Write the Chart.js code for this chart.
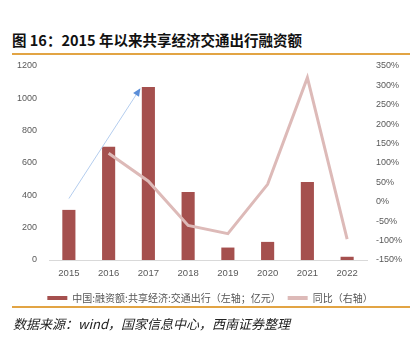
<!DOCTYPE html>
<html><head><meta charset="utf-8">
<script src="https://cdn.jsdelivr.net/npm/chart.js@4.4.1/dist/chart.umd.min.js"></script>
<style>
html,body{margin:0;padding:0;background:#fff;width:420px;height:343px;overflow:hidden;}
#wrap{position:relative;width:420px;height:343px;}
#title{position:absolute;left:12px;top:31px;font:bold 14.5px "Noto Sans CJK SC","Noto Sans",sans-serif;color:#111;white-space:nowrap;line-height:18px;}
.rule{position:absolute;left:12px;width:398px;height:1.5px;background:#E2A444;}
#src{position:absolute;left:13px;top:315px;font:italic 13px "Noto Sans CJK SC",sans-serif;color:#222;white-space:nowrap;line-height:18px;}
canvas{position:absolute;left:0;top:0;}
</style></head>
<body><div id="wrap">
<div id="title">图 16：2015 年以来共享经济交通出行融资额</div>
<div class="rule" style="top:53px"></div>
<canvas id="c" width="420" height="343"></canvas>
<div class="rule" style="top:306px"></div>
<div id="src">数据来源：wind，国家信息中心，西南证券整理</div>
</div>
<script>
const categories = ['2015','2016','2017','2018','2019','2020','2021','2022'];
const financing = [310, 700, 1070, 420, 77, 112, 483, 20];
const yoy = [null, 125, 53, -61, -82, 45, 320, -96];
const leftTicks = [0, 200, 400, 600, 800, 1000, 1200];
const rightTicks = [-150, -100, -50, 0, 50, 100, 150, 200, 250, 300, 350];
const arrowFrom = [0, 380];   // [category index, left-axis value]
const arrowTo = [1.8, 1063];

const arrowPlugin = {
  id: 'arrow',
  afterDatasetsDraw(chart) {
    const x = chart.scales.x, y = chart.scales.y;
    const x1 = x.getPixelForValue(arrowFrom[0]), y1 = y.getPixelForValue(arrowFrom[1]);
    const x2 = x.getPixelForValue(arrowTo[0]), y2 = y.getPixelForValue(arrowTo[1]);
    const ctx = chart.ctx;
    const ang = Math.atan2(y2 - y1, x2 - x1);
    const L = 8, W = 3.5;
    ctx.save();
    ctx.strokeStyle = '#B4CDEE';
    ctx.lineWidth = 1;
    ctx.beginPath();
    ctx.moveTo(x1, y1);
    ctx.lineTo(x2 - Math.cos(ang) * L * 0.8, y2 - Math.sin(ang) * L * 0.8);
    ctx.stroke();
    ctx.fillStyle = '#5B8ED8';
    ctx.beginPath();
    ctx.moveTo(x2, y2);
    ctx.lineTo(x2 - Math.cos(ang) * L - Math.sin(ang) * W, y2 - Math.sin(ang) * L + Math.cos(ang) * W);
    ctx.lineTo(x2 - Math.cos(ang) * L + Math.sin(ang) * W, y2 - Math.sin(ang) * L - Math.cos(ang) * W);
    ctx.closePath();
    ctx.fill();
    ctx.restore();
  }
};

const tickFont = {family: '"Liberation Sans", Arial, sans-serif', size: 9};
new Chart(document.getElementById('c'), {
  data: {
    labels: categories,
    datasets: [
      {type: 'line', label: '同比（右轴）', data: yoy, yAxisID: 'y1', borderColor: '#DDBAB8', backgroundColor: '#DDBAB8',
       borderWidth: 3, pointRadius: 0, tension: 0, order: 0, spanGaps: false},
      {type: 'bar', label: '中国:融资额:共享经济:交通出行（左轴；亿元）', data: financing, yAxisID: 'y',
       backgroundColor: '#A5504E', borderWidth: 0, barPercentage: 0.33, categoryPercentage: 1, order: 1}
    ]
  },
  options: {
    responsive: false, animation: false,
    layout: {padding: {top: 66, left: 0, right: 0, bottom: 30}},
    plugins: {
      tooltip: {enabled: false},
      legend: {
        position: 'bottom', reverse: true,
        labels: {boxWidth: 20, boxHeight: 4, padding: 7, color: '#555', font: {family: '"Noto Sans CJK SC", sans-serif', size: 10},
          generateLabels(chart) {
            const items = Chart.defaults.plugins.legend.labels.generateLabels(chart);
            items.forEach(it => { it.lineWidth = 0; });
            return items;
          }}
      }
    },
    scales: {
      x: {grid: {display: false, drawTicks: false}, border: {color: '#D9D9D9'},
          ticks: {color: '#595959', font: {family: '"Liberation Sans", Arial, sans-serif', size: 9.5}, padding: 8, maxRotation: 0},
          afterFit(s) { s.height = 26; }},
      y: {position: 'left', min: 0, max: 1200, grid: {display: false, drawTicks: false}, border: {display: false},
          afterBuildTicks(s) { s.ticks = leftTicks.map(v => ({value: v})); },
          ticks: {color: '#595959', font: tickFont, padding: 12, callback: v => String(v)},
          afterFit(s) { s.width = 49; }},
      y1: {position: 'right', min: -150, max: 350, grid: {display: false, drawTicks: false}, border: {display: false},
          afterBuildTicks(s) { s.ticks = rightTicks.map(v => ({value: v})); },
          ticks: {color: '#595959', font: tickFont, padding: 9, callback: v => v + '%'},
          afterFit(s) { s.width = 53; }}
    }
  },
  plugins: [arrowPlugin]
});
</script>
</body></html>
